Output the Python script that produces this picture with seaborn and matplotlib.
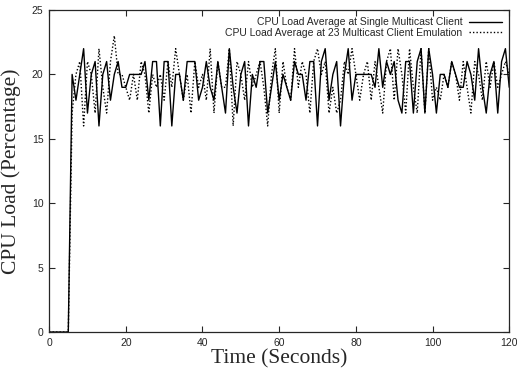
import numpy as np
import pandas as pd
import seaborn as sns
from matplotlib import pyplot as plt

# time axis, one sample per second
time_s = np.arange(0, 121)

# CPU load (%) for the single multicast client
single_client = [
    0, 0, 0, 0, 0, 0,
    20, 18, 20, 22, 17, 20, 21, 16, 20, 21, 18, 20, 21, 19, 19,
    20, 20, 20, 20, 21, 18, 21, 21, 16, 21, 21, 16, 20, 20, 18, 21, 21,
    21, 18, 19, 21, 19, 18, 21, 19, 17, 22, 19, 17, 20, 21, 16,
    20, 19, 21, 21, 17, 19, 21, 18, 20, 19, 18, 21, 20, 20, 18, 21, 21, 16, 21,
    22, 18, 20, 21, 16, 20, 22, 18, 20, 20, 20, 20, 20, 19, 22, 19, 21,
    20, 21, 18, 17, 21, 21, 17, 21, 22, 17, 22, 20, 17, 20, 20, 19, 21,
    20, 19, 19, 21, 20, 18, 22, 19, 17, 20, 21, 17, 21, 22, 19,
]

# CPU load (%) for the 23-client emulation
emulation_23 = [
    0, 0, 0, 0, 0, 0,
    17, 20, 21, 16, 21, 20, 17, 22, 19, 17, 21, 23, 20, 20, 19,
    18, 20, 18, 21, 20, 17, 20, 19, 20, 18, 21, 19, 22, 20, 18, 20, 17,
    21, 19, 20, 18, 22, 17, 21, 19, 19, 22, 16, 21, 20, 18, 21,
    19, 20, 21, 19, 16, 20, 22, 17, 21, 19, 18, 22, 19, 21, 20, 17, 21, 22, 20,
    21, 17, 19, 17, 18, 21, 20, 22, 20, 18, 20, 21, 18, 21, 19, 17, 21,
    22, 18, 22, 20, 17, 22, 19, 17, 22, 17, 22, 18, 19, 18, 20, 19, 21,
    20, 18, 21, 19, 17, 21, 20, 18, 21, 19, 21, 19, 20, 21, 20,
]

labels = [
    "CPU Load Average at Single Multicast Client",
    "CPU Load Average at 23 Multicast Client Emulation",
]

df = pd.DataFrame({"time": time_s, "single": single_client, "emul": emulation_23})

sns.set_style("ticks")
plt.rcParams["font.family"] = ["Liberation Sans", "DejaVu Sans"]
plt.rcParams["xtick.direction"] = "in"
plt.rcParams["ytick.direction"] = "in"
plt.rcParams["xtick.top"] = True
plt.rcParams["ytick.right"] = True

fig = plt.figure(figsize=(5.17, 3.71), dpi=100)
ax = fig.add_axes([0.095, 0.105, 0.89, 0.868])

sns.lineplot(data=df, x="time", y="single", ax=ax, color="black", linewidth=1.0, label=labels[0])
sns.lineplot(data=df, x="time", y="emul", ax=ax, color="black", linewidth=1.0, linestyle=(0, (1, 1.5)),
             label=labels[1])

ax.set_xlim(0, 120)
ax.set_ylim(0, 25)
ax.set_xticks(range(0, 121, 20))
ax.set_yticks(range(0, 26, 5))
ax.tick_params(labelsize=7.5, length=4, width=0.8, pad=4)
for s in ax.spines.values():
    s.set_linewidth(0.9)

ax.set_xlabel("Time (Seconds)", family="Liberation Serif", fontsize=15.5, labelpad=1)
ax.set_ylabel("CPU Load (Percentage)", family="Liberation Serif", fontsize=15.5, labelpad=8)

ax.legend(loc="upper right", frameon=False, markerfirst=False, fontsize=7.5, handlelength=3.2,
          handletextpad=0.6, labelspacing=0.05, borderaxespad=0.3)

fig.savefig("out.png", dpi=100)
